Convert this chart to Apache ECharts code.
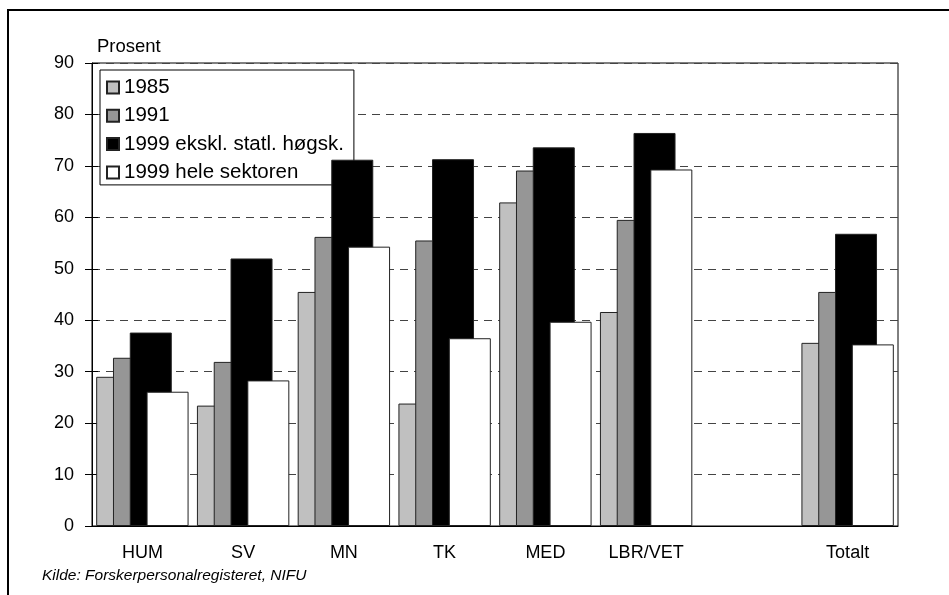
<!DOCTYPE html>
<html>
<head>
<meta charset="utf-8">
<script src="https://cdn.jsdelivr.net/npm/echarts@6/dist/echarts.min.js"></script>
<style>
  html, body { margin: 0; padding: 0; background: #fff; }
  #chart { width: 949px; height: 595px; }
</style>
</head>
<body>
<div id="chart"></div>
<script>
// kategorier og verdier (prosent)
const categories = ['HUM', 'SV', 'MN', 'TK', 'MED', 'LBR/VET', '', 'Totalt']
const seriesNames = ['1985', '1991', '1999 ekskl. statl. høgsk.', '1999 hele sektoren']
const v1985 = [29.0, 23.4, 45.5, 23.8, 62.9, 41.6, null, 35.6]
const v1991 = [32.7, 31.9, 56.2, 55.5, 69.1, 59.5, null, 45.5]
const v1999eks = [37.6, 52.0, 71.2, 71.3, 73.6, 76.4, null, 56.8]
const v1999hele = [26.1, 28.3, 54.3, 36.5, 39.7, 69.3, null, 35.3]
const yTicks = [0, 90, 10]  // min, max, interval
const colors = ['#c0c0c0', '#969696', '#000000', '#ffffff']

const font = 'Arial, "Liberation Sans", sans-serif'
const chart = echarts.init(document.getElementById('chart'))

const makeSeries = (name, data, color) => ({
  name: name,
  type: 'bar',
  data: data,
  barWidth: 42,
  barGap: '-60%',   // søylene overlapper hverandre som i originalen
  z: 5,
  itemStyle: { color: color, borderColor: '#222', borderWidth: 1 }
})

const option = {
  animation: false,
  backgroundColor: '#fff',
  textStyle: { fontFamily: font, color: '#000' },
  grid: {
    left: 92, right: 51, top: 63, bottom: 69,
    show: true, borderColor: '#000', borderWidth: 1, backgroundColor: 'transparent'
  },
  legend: {
    left: 100, top: 70,
    orient: 'vertical',
    z: 1,
    padding: [7, 10, 2, 6],
    itemGap: 7.3,
    itemWidth: 12, itemHeight: 12,
    icon: 'rect',
    backgroundColor: '#fff',
    borderColor: '#000',
    borderWidth: 1,
    textStyle: { fontSize: 20.5, lineHeight: 18, fontFamily: font, color: '#000' },
    data: seriesNames
  },
  xAxis: [{
    type: 'category',
    data: categories,
    position: 'bottom',
    axisLine: { lineStyle: { color: '#000', width: 1 } },
    axisTick: { length: 6, lineStyle: { color: '#000' } },
    axisLabel: { fontSize: 18, color: '#000', margin: 18, fontFamily: font, interval: 0 }
  }, {
    type: 'category',
    data: categories,
    position: 'bottom',
    axisLine: { show: false },
    axisTick: { inside: true, length: 6, lineStyle: { color: '#000' } },
    axisLabel: { show: false }
  }],
  yAxis: [{
    type: 'value',
    min: yTicks[0], max: yTicks[1], interval: yTicks[2],
    name: 'Prosent',
    nameLocation: 'end',
    nameGap: 7,
    nameTextStyle: { fontSize: 18.5, color: '#000', align: 'left', padding: [0, 0, 0, 5], fontFamily: font },
    axisLine: { show: true, lineStyle: { color: '#000', width: 1 } },
    axisTick: { show: true, length: 7, lineStyle: { color: '#000' } },
    axisLabel: { fontSize: 18, color: '#000', margin: 18, fontFamily: font },
    splitLine: { show: true, lineStyle: { color: '#444', type: [8, 6], width: 1 } }
  }, {
    type: 'value',
    position: 'left',
    min: yTicks[0], max: yTicks[1], interval: yTicks[2],
    axisLine: { show: false },
    axisTick: { show: true, inside: true, length: 6, lineStyle: { color: '#000' } },
    axisLabel: { show: false },
    splitLine: { show: false }
  }],
  series: [
    makeSeries(seriesNames[0], v1985, colors[0]),
    makeSeries(seriesNames[1], v1991, colors[1]),
    makeSeries(seriesNames[2], v1999eks, colors[2]),
    makeSeries(seriesNames[3], v1999hele, colors[3])
  ],
  graphic: [
    {
      type: 'rect',
      shape: { x: 8, y: 10, width: 960, height: 600 },
      style: { fill: 'none', stroke: '#000', lineWidth: 2 },
      silent: true
    },
    {
      type: 'text',
      left: 42, top: 568,
      style: {
        text: 'Kilde: Forskerpersonalregisteret, NIFU',
        font: 'italic 15.5px Arial, "Liberation Sans", sans-serif',
        fill: '#000'
      }
    }
  ]
}

chart.setOption(option)
</script>
</body>
</html>
